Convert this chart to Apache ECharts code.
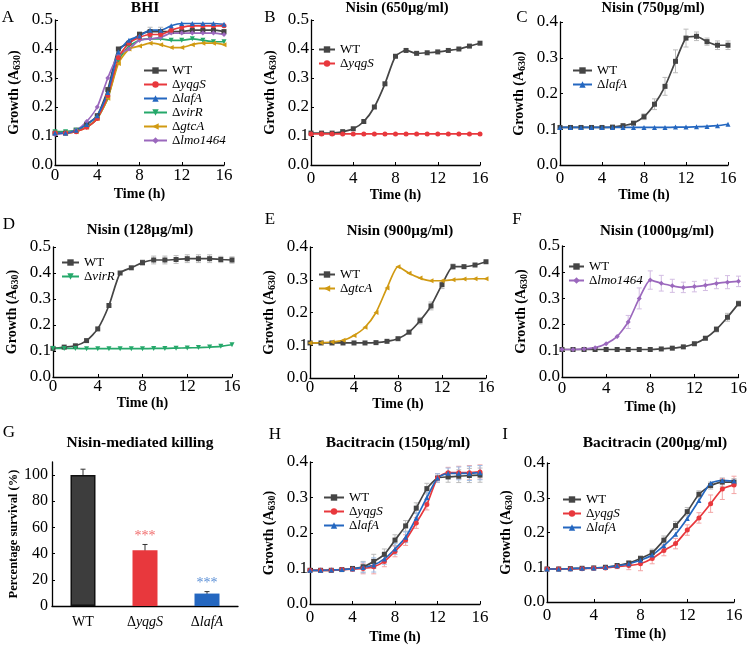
<!DOCTYPE html>
<html>
<head>
<meta charset="utf-8">
<script src="https://cdn.jsdelivr.net/npm/echarts@6/dist/echarts.min.js"></script>
<style>
  html, body { margin: 0; background: #fff; }
  #chart { width: 750px; height: 645px; }
</style>
</head>
<body>
<div id="chart"></div>
<script>
// ---- data ----
const hours = [0, 1, 2, 3, 4, 5, 6, 7, 8, 9, 10, 11, 12, 13, 14, 15, 16];

// A: BHI
const bhiWT      = [0.11, 0.11, 0.12, 0.14, 0.17, 0.26, 0.40, 0.42, 0.45, 0.46, 0.46, 0.46, 0.46, 0.465, 0.465, 0.465, 0.46];
const bhiYqgS    = [0.11, 0.11, 0.115, 0.13, 0.16, 0.24, 0.37, 0.42, 0.44, 0.45, 0.45, 0.465, 0.475, 0.48, 0.48, 0.48, 0.48];
const bhiLafA    = [0.11, 0.11, 0.12, 0.14, 0.17, 0.25, 0.39, 0.43, 0.445, 0.465, 0.465, 0.48, 0.488, 0.488, 0.488, 0.488, 0.485];
const bhiVirR    = [0.115, 0.115, 0.12, 0.13, 0.16, 0.23, 0.36, 0.41, 0.43, 0.435, 0.435, 0.43, 0.43, 0.435, 0.43, 0.425, 0.425];
const bhiGtcA    = [0.11, 0.11, 0.115, 0.13, 0.16, 0.23, 0.35, 0.40, 0.41, 0.42, 0.415, 0.405, 0.405, 0.415, 0.42, 0.42, 0.415];
const bhiLmo1464 = [0.105, 0.11, 0.12, 0.15, 0.20, 0.30, 0.38, 0.40, 0.43, 0.435, 0.44, 0.455, 0.455, 0.455, 0.455, 0.455, 0.45];
const bhiWTErr   = [0, 0, 0, 0, 0, 0, 0, 0, 0.01, 0.015, 0.015, 0, 0, 0, 0, 0, 0];

// B: Nisin 650
const n650WT   = [0.11, 0.11, 0.11, 0.115, 0.125, 0.15, 0.20, 0.28, 0.375, 0.395, 0.385, 0.387, 0.39, 0.395, 0.40, 0.41, 0.42];
const n650YqgS = [0.107, 0.107, 0.107, 0.107, 0.107, 0.107, 0.107, 0.107, 0.107, 0.107, 0.107, 0.107, 0.107, 0.107, 0.107, 0.107, 0.107];

// C: Nisin 750
const n750WT    = [0.105, 0.105, 0.105, 0.105, 0.105, 0.106, 0.11, 0.117, 0.135, 0.17, 0.22, 0.29, 0.355, 0.36, 0.345, 0.335, 0.335];
const n750LafA  = [0.105, 0.105, 0.105, 0.105, 0.105, 0.105, 0.105, 0.105, 0.105, 0.105, 0.105, 0.106, 0.106, 0.107, 0.108, 0.11, 0.114];
const n750WTErr = [0, 0, 0, 0, 0, 0, 0, 0, 0.008, 0.015, 0.025, 0.032, 0.025, 0.012, 0.01, 0.012, 0.012];

// D: Nisin 128
const n128WT    = [0.11, 0.115, 0.12, 0.14, 0.185, 0.275, 0.40, 0.42, 0.44, 0.45, 0.45, 0.452, 0.455, 0.455, 0.455, 0.452, 0.45];
const n128VirR  = [0.11, 0.11, 0.11, 0.109, 0.109, 0.109, 0.109, 0.109, 0.109, 0.11, 0.11, 0.111, 0.112, 0.113, 0.115, 0.118, 0.124];
const n128WTErr = [0, 0, 0, 0, 0, 0, 0, 0, 0.01, 0.015, 0.015, 0.015, 0.015, 0.015, 0.015, 0.012, 0.012];

// E: Nisin 900
const n900WT   = [0.107, 0.107, 0.107, 0.107, 0.107, 0.107, 0.108, 0.112, 0.12, 0.14, 0.175, 0.22, 0.285, 0.34, 0.34, 0.345, 0.355];
const n900GtcA = [0.107, 0.108, 0.11, 0.115, 0.13, 0.155, 0.20, 0.275, 0.34, 0.32, 0.305, 0.297, 0.297, 0.30, 0.302, 0.303, 0.303];
const n900WTErr = [0, 0, 0, 0, 0, 0, 0, 0, 0, 0.005, 0.01, 0.012, 0.012, 0.008, 0, 0, 0];

// F: Nisin 1000
const n1000WT      = [0.105, 0.105, 0.105, 0.105, 0.105, 0.105, 0.105, 0.105, 0.105, 0.107, 0.11, 0.115, 0.127, 0.148, 0.182, 0.228, 0.28];
const n1000Lmo1464 = [0.105, 0.105, 0.107, 0.112, 0.127, 0.155, 0.21, 0.30, 0.37, 0.358, 0.348, 0.342, 0.345, 0.35, 0.357, 0.362, 0.365];
const n1000WTErr   = [0, 0, 0, 0, 0, 0, 0, 0, 0, 0, 0, 0, 0, 0.006, 0.01, 0.015, 0.01];
const n1000LmoErr  = [0, 0, 0, 0, 0, 0, 0.025, 0.04, 0.035, 0.03, 0.025, 0.02, 0.02, 0.02, 0.02, 0.025, 0.02];

// G: Nisin-mediated killing
const killCats   = ['WT', 'ΔyqgS', 'ΔlafA'];
const killValues = [100, 42.5, 9.5];
const killErr    = [4.5, 4.5, 1.5];

// H: Bacitracin 150
const b150WT   = [0.095, 0.095, 0.095, 0.097, 0.10, 0.105, 0.12, 0.14, 0.18, 0.22, 0.27, 0.325, 0.355, 0.358, 0.36, 0.362, 0.363];
const b150YqgS = [0.095, 0.095, 0.095, 0.097, 0.098, 0.10, 0.105, 0.12, 0.148, 0.18, 0.228, 0.28, 0.355, 0.37, 0.37, 0.37, 0.372];
const b150LafA = [0.095, 0.095, 0.096, 0.097, 0.099, 0.103, 0.11, 0.127, 0.155, 0.188, 0.242, 0.30, 0.355, 0.368, 0.368, 0.368, 0.37];
const b150Err  = [0, 0, 0, 0, 0.006, 0.015, 0.02, 0.015, 0.015, 0.015, 0.015, 0.015, 0.012, 0.015, 0.018, 0.02, 0.02];

// I: Bacitracin 200
const b200WT   = [0.095, 0.095, 0.096, 0.097, 0.098, 0.10, 0.105, 0.112, 0.125, 0.142, 0.178, 0.22, 0.26, 0.31, 0.335, 0.345, 0.345];
const b200YqgS = [0.095, 0.095, 0.095, 0.096, 0.097, 0.098, 0.102, 0.105, 0.11, 0.125, 0.148, 0.168, 0.207, 0.242, 0.283, 0.325, 0.337];
const b200LafA = [0.095, 0.095, 0.096, 0.097, 0.098, 0.10, 0.104, 0.11, 0.12, 0.135, 0.162, 0.195, 0.24, 0.292, 0.342, 0.35, 0.348];
const b200YqgSErr = [0, 0, 0, 0, 0, 0, 0.006, 0.012, 0.02, 0.015, 0.015, 0.015, 0.015, 0.015, 0.025, 0.03, 0.025];
const b200WTErr   = [0, 0, 0, 0, 0, 0, 0, 0.006, 0.008, 0.01, 0.012, 0.012, 0.012, 0.01, 0.01, 0.012, 0.01];

// ---- styles ----
const serif = '"Liberation Serif", "DejaVu Serif", serif';
const strains = {
  'WT':       { color: '#454545', symbol: 'rect', rotate: 0 },
  'ΔyqgS':    { color: '#e8383d', symbol: 'circle', rotate: 0 },
  'ΔlafA':    { color: '#2467c0', symbol: 'triangle', rotate: 0 },
  'ΔvirR':    { color: '#25a86a', symbol: 'triangle', rotate: 180 },
  'ΔgtcA':    { color: '#d19a12', symbol: 'triangle', rotate: 90 },
  'Δlmo1464': { color: '#9b68bd', symbol: 'diamond', rotate: 0 }
};

// panel frames: left, top, width, height, y max, x-name gap, x-label margin
const panels = [
  { l: 55,  t: 20,  w: 169, h: 145, ymax: 0.5, gap: 22, m: 2 },
  { l: 311, t: 20,  w: 169, h: 145, ymax: 0.5, gap: 22, m: 5 },
  { l: 560, t: 22,  w: 168, h: 143, ymax: 0.4, gap: 22, m: 5 },
  { l: 53,  t: 247, w: 179, h: 130, ymax: 0.5, gap: 14, m: 1 },
  { l: 310, t: 247, w: 176, h: 131, ymax: 0.4, gap: 19, m: 1 },
  { l: 562, t: 246, w: 177, h: 131, ymax: 0.5, gap: 23, m: 3 },
  { l: 52,  t: 462, w: 186, h: 144 },
  { l: 310, t: 462, w: 170, h: 143, ymax: 0.4, gap: 26, m: 5 },
  { l: 547, t: 463, w: 187, h: 139, ymax: 0.4, gap: 25, m: 5 }
];

const axisLine = { lineStyle: { color: '#000', width: 1.3 } };
const axisTick = { inside: true, length: 3, lineStyle: { color: '#000' } };
const nameStyle = { fontFamily: serif, fontSize: 14, fontWeight: 'bold', color: '#000' };

const grid = [], xAxis = [], yAxis = [];
panels.forEach((p, i) => {
  grid.push({ left: p.l, top: p.t, width: p.w, height: p.h });
  if (i === 6) {
    xAxis.push({
      type: 'category', gridIndex: i, data: killCats,
      axisLine: axisLine, axisTick: { show: false },
      axisLabel: {
        margin: 9, interval: 0,
        formatter: v => v.startsWith('Δ') ? '{d|Δ}{i|' + v.slice(1) + '}' : '{d|' + v + '}',
        rich: {
          d: { fontFamily: serif, fontSize: 14, color: '#000' },
          i: { fontFamily: serif, fontSize: 14, fontStyle: 'italic', color: '#000' }
        }
      }
    });
    yAxis.push({
      type: 'value', gridIndex: i, min: 0, max: 110, interval: 20,
      axisLine: { show: true, lineStyle: { color: '#000', width: 1.3 } },
      axisTick: { show: true, inside: true, length: 3, lineStyle: { color: '#000' } },
      splitLine: { show: false },
      axisLabel: { showMaxLabel: false, fontFamily: serif, fontSize: 16, color: '#000', margin: 4 },
      name: 'Percentage survival (%)', nameLocation: 'middle', nameGap: 32,
      nameTextStyle: { fontFamily: serif, fontSize: 12.5, fontWeight: 'bold', color: '#000' }
    });
    return;
  }
  xAxis.push({
    type: 'value', gridIndex: i, min: 0, max: 16, interval: 4,
    axisLine: axisLine, axisTick: axisTick, splitLine: { show: false },
    axisLabel: { fontFamily: serif, fontSize: 17, color: '#000', margin: p.m },
    name: 'Time (h)', nameLocation: 'middle', nameGap: p.gap,
    nameTextStyle: nameStyle
  });
  yAxis.push({
    type: 'value', gridIndex: i, min: 0, max: p.ymax, interval: 0.1,
    axisLine: { show: true, lineStyle: { color: '#000', width: 1.3 } },
    axisTick: { show: true, inside: true, length: 3, lineStyle: { color: '#000' } },
    splitLine: { show: false },
    axisLabel: { fontFamily: serif, fontSize: 17, color: '#000', margin: 2, formatter: v => v.toFixed(1) },
    name: '{b|Growth (A}{s|630}{b|)}', nameLocation: 'middle', nameGap: 33,
    nameTextStyle: {
      rich: {
        b: { fontFamily: serif, fontSize: 14, fontWeight: 'bold', color: '#000' },
        s: { fontFamily: serif, fontSize: 10, fontWeight: 'bold', color: '#000', verticalAlign: 'bottom', padding: [5, 0, 0, 0] }
      }
    }
  });
});

function lineSeries(gi, name, vals) {
  const s = strains[name];
  return {
    type: 'line', name: name, xAxisIndex: gi, yAxisIndex: gi,
    data: vals.map((v, k) => [hours[k], v]),
    smooth: 0.2, symbol: s.symbol, symbolRotate: s.rotate, symbolSize: 5,
    lineStyle: { color: s.color, width: 1.7 },
    itemStyle: { color: s.color },
    z: 3
  };
}

function errSeries(gi, vals, errs, color, byIndex) {
  const data = [];
  vals.forEach((v, k) => {
    if (errs[k] > 0) data.push([byIndex ? k : hours[k], v - errs[k], v + errs[k]]);
  });
  return {
    type: 'custom', xAxisIndex: gi, yAxisIndex: gi, silent: true, z: 2,
    renderItem(params, api) {
      const lo = api.coord([api.value(0), api.value(1)]);
      const hi = api.coord([api.value(0), api.value(2)]);
      const w = 2.5;
      const st = { stroke: color, lineWidth: 1 };
      return {
        type: 'group', children: [
          { type: 'line', shape: { x1: lo[0], y1: lo[1], x2: hi[0], y2: hi[1] }, style: st },
          { type: 'line', shape: { x1: hi[0] - w, y1: hi[1], x2: hi[0] + w, y2: hi[1] }, style: st },
          { type: 'line', shape: { x1: lo[0] - w, y1: lo[1], x2: lo[0] + w, y2: lo[1] }, style: st }
        ]
      };
    },
    data: data
  };
}

const series = [
  errSeries(0, bhiWT, bhiWTErr, '#bbb'),
  lineSeries(0, 'WT', bhiWT),
  lineSeries(0, 'ΔvirR', bhiVirR),
  lineSeries(0, 'ΔgtcA', bhiGtcA),
  lineSeries(0, 'Δlmo1464', bhiLmo1464),
  lineSeries(0, 'ΔyqgS', bhiYqgS),
  lineSeries(0, 'ΔlafA', bhiLafA),

  lineSeries(1, 'WT', n650WT),
  lineSeries(1, 'ΔyqgS', n650YqgS),

  errSeries(2, n750WT, n750WTErr, '#bbb'),
  lineSeries(2, 'WT', n750WT),
  lineSeries(2, 'ΔlafA', n750LafA),

  errSeries(3, n128WT, n128WTErr, '#bbb'),
  lineSeries(3, 'WT', n128WT),
  lineSeries(3, 'ΔvirR', n128VirR),

  errSeries(4, n900WT, n900WTErr, '#bbb'),
  lineSeries(4, 'WT', n900WT),
  lineSeries(4, 'ΔgtcA', n900GtcA),

  errSeries(5, n1000WT, n1000WTErr, '#bbb'),
  errSeries(5, n1000Lmo1464, n1000LmoErr, '#d3bde3'),
  lineSeries(5, 'WT', n1000WT),
  lineSeries(5, 'Δlmo1464', n1000Lmo1464),

  {
    type: 'bar', xAxisIndex: 6, yAxisIndex: 6, barWidth: 25, z: 3,
    data: killValues.map((v, k) => ({
      value: v,
      itemStyle: {
        color: ['#3d3d3d', '#e8383d', '#2467c0'][k],
        borderColor: k === 0 ? '#111' : 'transparent', borderWidth: k === 0 ? 1.5 : 0
      },
      label: {
        show: k > 0, position: 'top', distance: killErr[k] * 1.31 + 1,
        formatter: '***', fontFamily: serif, fontSize: 14,
        color: ['#000', '#f06a6a', '#5a8fd6'][k]
      }
    }))
  },
  errSeries(6, killValues, killErr, '#333', true),

  errSeries(7, b150WT, b150Err, '#bbb'),
  errSeries(7, b150YqgS, b150Err, '#f3a5a5'),
  errSeries(7, b150LafA, b150Err, '#9dbde6'),
  lineSeries(7, 'WT', b150WT),
  lineSeries(7, 'ΔyqgS', b150YqgS),
  lineSeries(7, 'ΔlafA', b150LafA),

  errSeries(8, b200WT, b200WTErr, '#bbb'),
  errSeries(8, b200YqgS, b200YqgSErr, '#f3a5a5'),
  lineSeries(8, 'WT', b200WT),
  lineSeries(8, 'ΔyqgS', b200YqgS),
  lineSeries(8, 'ΔlafA', b200LafA)
];

function legendAt(left, top, iconW, names) {
  return {
    data: names, left: left, top: top, orient: 'vertical', padding: 0,
    itemWidth: iconW, itemHeight: 8, itemGap: 1, symbolRotate: 'inherit',
    selectedMode: false,
    formatter: n => n.startsWith('Δ') ? '{d|Δ}{i|' + n.slice(1) + '}' : '{d|' + n + '}',
    textStyle: {
      rich: {
        d: { fontFamily: serif, fontSize: 13, color: '#000', lineHeight: 14 },
        i: { fontFamily: serif, fontSize: 13, fontStyle: 'italic', color: '#000', lineHeight: 14 }
      }
    }
  };
}

const legend = [
  legendAt(143, 64, 23, ['WT', 'ΔyqgS', 'ΔlafA', 'ΔvirR', 'ΔgtcA', 'Δlmo1464']),
  legendAt(318, 43, 16, ['WT', 'ΔyqgS']),
  legendAt(572, 64, 19, ['WT', 'ΔlafA']),
  legendAt(61, 256, 17, ['WT', 'ΔvirR']),
  legendAt(318, 268, 16, ['WT', 'ΔgtcA']),
  legendAt(568, 260, 15, ['WT', 'Δlmo1464']),
  legendAt(323, 491, 20, ['WT', 'ΔyqgS', 'ΔlafA']),
  legendAt(562, 493, 18, ['WT', 'ΔyqgS', 'ΔlafA'])
];

function txt(x, y, text, bold, size) {
  return {
    type: 'text', x: x, y: y,
    style: {
      text: text, fill: '#000', textAlign: 'center', textVerticalAlign: 'middle',
      font: (bold ? 'bold ' : '') + size + 'px ' + serif
    }
  };
}

const graphic = [
  txt(145, 8, 'BHI', true, 15.5),
  txt(397, 8, 'Nisin (650µg/ml)', true, 14.5),
  txt(653, 8, 'Nisin (750µg/ml)', true, 14.5),
  txt(140, 230, 'Nisin (128µg/ml)', true, 15),
  txt(400, 231, 'Nisin (900µg/ml)', true, 15),
  txt(657, 231, 'Nisin (1000µg/ml)', true, 15),
  txt(140, 443, 'Nisin-mediated killing', true, 15.5),
  txt(398, 443, 'Bacitracin (150µg/ml)', true, 15.5),
  txt(655, 443, 'Bacitracin (200µg/ml)', true, 15.5),
  txt(8, 18, 'A', false, 17),
  txt(270, 18, 'B', false, 17),
  txt(522, 18, 'C', false, 17),
  txt(9, 225, 'D', false, 17),
  txt(270, 220, 'E', false, 17),
  txt(517, 220, 'F', false, 17),
  txt(9, 433, 'G', false, 17),
  txt(275, 435, 'H', false, 17),
  txt(505, 435, 'I', false, 17)
];

const chart = echarts.init(document.getElementById('chart'));
chart.setOption({
  backgroundColor: '#fff',
  animation: false,
  grid: grid,
  xAxis: xAxis,
  yAxis: yAxis,
  legend: legend,
  graphic: graphic,
  series: series
});
</script>
</body>
</html>
